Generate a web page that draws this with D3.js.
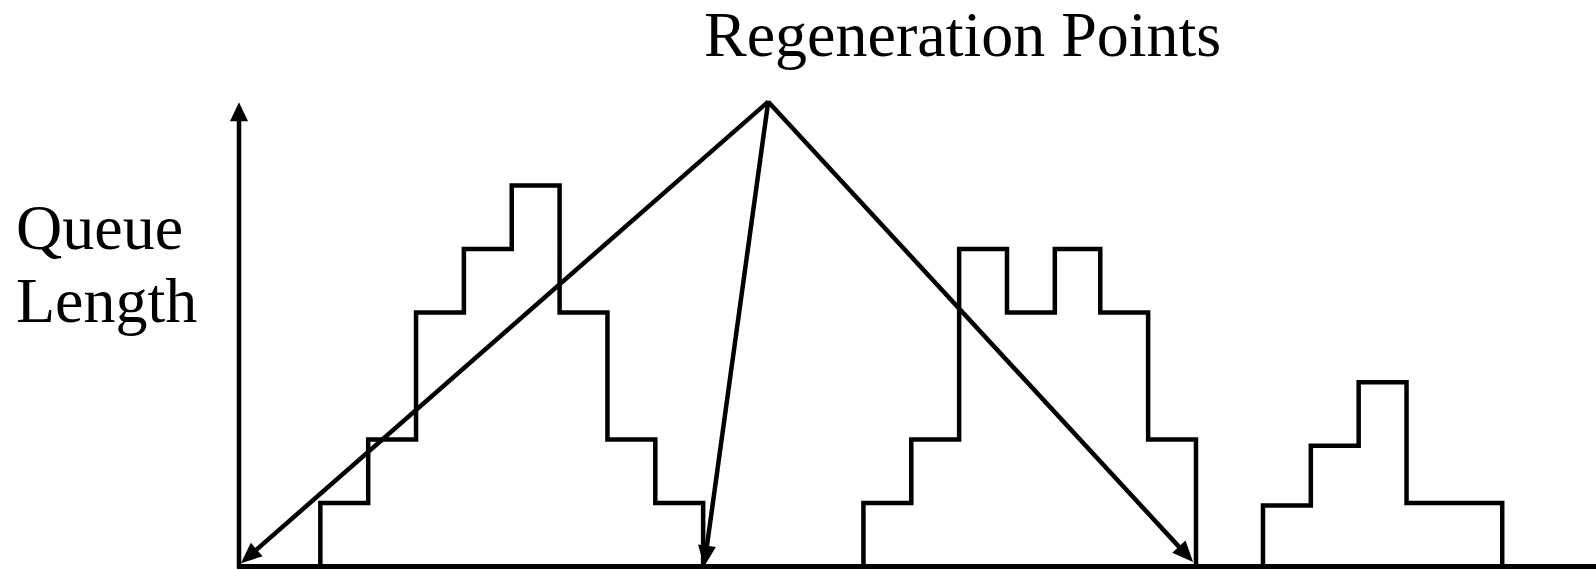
<!DOCTYPE html>
<html>
<head>
<meta charset="utf-8">
<script src="https://cdn.jsdelivr.net/npm/d3@7"></script>
<style>
  html, body { margin: 0; padding: 0; background: #fff; }
  svg { display: block; }
  text { font-family: "Liberation Serif", "Times New Roman", serif; fill: #000; }
</style>
</head>
<body>
<svg id="chart" width="1596" height="570"></svg>
<script>
// ---- data (time units, queue length) ----
const title = "Regeneration Points";
const yLabelLines = ["Queue", "Length"];

const busy1Times  = [1.7, 2.7, 3.7, 4.7, 5.7, 6.7, 7.7, 8.7, 9.7];
const busy1Levels = [1, 2, 4, 5, 6, 4, 2, 1, 0];

const busy2Times  = [13.05, 14.05, 15.05, 16.05, 17.05, 18.0, 19.0, 20.0];
const busy2Levels = [1, 2, 5, 4, 5, 4, 2, 0];

const busy3Times  = [21.4, 22.4, 23.4, 24.4, 26.4];
const busy3Levels = [0.96, 1.9, 2.9, 1, 0];

// label anchor point (apex) and regeneration points the arrows point to
const apexTime = 11.06, apexLevel = 7.32;
const regenTimes  = [0.04, 9.72, 19.94];
const regenLevels = [0.05, 0, 0.07];

const axisTopLevel = 7.31;
const timeMax = 28.36;

// ---- layout ----
const svg = d3.select("#chart");
const x = d3.scaleLinear().domain([0, timeMax]).range([239, 1596]);
const y = d3.scaleLinear().domain([0, 1]).range([566.5, 503]);

// title
svg.append("text")
  .attr("x", 704).attr("y", 56)
  .attr("font-size", 64)
  .text(title);

// y label
svg.append("text")
  .attr("font-size", 64)
  .selectAll("tspan").data(yLabelLines).join("tspan")
  .attr("x", 16)
  .attr("y", (d, i) => 249 + i * 73)
  .text(d => d);

// busy-period step curves
const stepLine = d3.line()
  .x(d => x(d[0]))
  .y(d => y(d[1]))
  .curve(d3.curveStepAfter);

[[busy1Times, busy1Levels], [busy2Times, busy2Levels], [busy3Times, busy3Levels]]
  .forEach(([ts, ls]) => {
    const pts = [[ts[0], 0]].concat(ts.map((t, i) => [t, ls[i]]));
    svg.append("path")
      .attr("d", stepLine(pts))
      .attr("fill", "none")
      .attr("stroke", "#000")
      .attr("stroke-width", 4.5)
      .attr("stroke-linejoin", "miter")
      .attr("stroke-linecap", "square");
  });

// arrow helper: line from (x1,y1) to tip (x2,y2) with filled head
function arrow(x1, y1, x2, y2, w, headLen, headHalf) {
  const dx = x2 - x1, dy = y2 - y1;
  const L = Math.hypot(dx, dy);
  const ux = dx / L, uy = dy / L;
  const bx = x2 - ux * headLen, by = y2 - uy * headLen;
  svg.append("line")
    .attr("x1", x1).attr("y1", y1)
    .attr("x2", bx + ux * 1).attr("y2", by + uy * 1)
    .attr("stroke", "#000").attr("stroke-width", w);
  const px = -uy, py = ux;
  svg.append("path")
    .attr("d", `M${x2},${y2}L${bx + px * headHalf},${by + py * headHalf}L${bx - px * headHalf},${by - py * headHalf}Z`)
    .attr("fill", "#000");
}

// x axis (baseline)
svg.append("line")
  .attr("x1", x(0) - 2).attr("x2", x(timeMax))
  .attr("y1", y(0)).attr("y2", y(0))
  .attr("stroke", "#000").attr("stroke-width", 5);

// y axis with arrow
arrow(x(0), y(0) + 2, x(0), y(axisTopLevel), 4.5, 19, 9);

// regeneration arrows
regenTimes.forEach((t, i) => {
  arrow(x(apexTime), y(apexLevel), x(t), y(regenLevels[i]), 4.5, 21, 9);
});

// round apex join
svg.append("circle")
  .attr("cx", x(apexTime)).attr("cy", y(apexLevel) + 1.5)
  .attr("r", 2.5).attr("fill", "#000");
</script>
</body>
</html>
